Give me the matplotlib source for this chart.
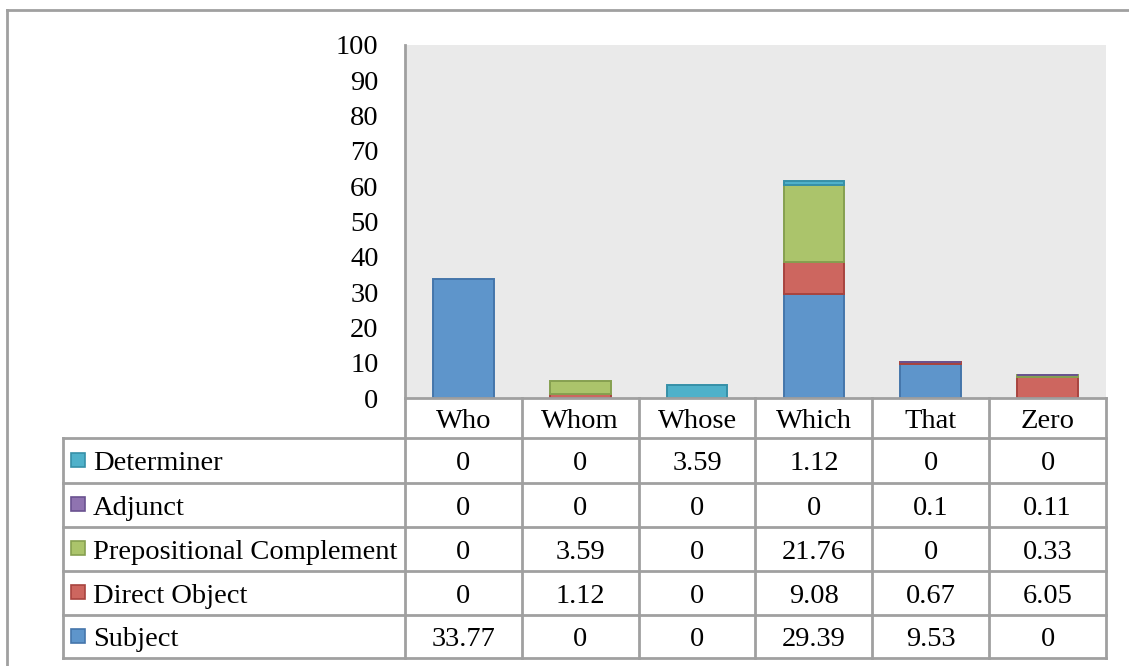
import numpy as np
import matplotlib
matplotlib.use("Agg")
import matplotlib.pyplot as plt
from matplotlib.lines import Line2D
from matplotlib.patches import Rectangle

categories = ["Who", "Whom", "Whose", "Which", "That", "Zero"]
subject = [33.77, 0, 0, 29.39, 9.53, 0]
direct_object = [0, 1.12, 0, 9.08, 0.67, 6.05]
prep_complement = [0, 3.59, 0, 21.76, 0, 0.33]
adjunct = [0, 0, 0, 0, 0.1, 0.11]
determiner = [0, 0, 3.59, 1.12, 0, 0]

series = [
    ("Subject", subject, "#5e95cb", "#4576ab"),
    ("Direct Object", direct_object, "#cd665f", "#a8443f"),
    ("Prepositional Complement", prep_complement, "#abc46b", "#86a050"),
    ("Adjunct", adjunct, "#8f73b0", "#6a5290"),
    ("Determiner", determiner, "#4fb1ca", "#3690a8"),
]
# table rows are listed top-down, opposite of the stacking order
table_rows = series[::-1]

W, H = 1129, 666
plt.rcParams['font.family'] = ['Liberation Serif', 'DejaVu Serif']
fs = 20.5

fig = plt.figure(figsize=(W / 100, H / 100), dpi=100)


def fx(x):
    return x / W


def fy(y):
    return 1 - y / H


# plot area in pixel coordinates
left, right, top, base = 405, 1106, 45, 398
ax = fig.add_axes([fx(left), fy(base), (right - left) / W, (base - top) / H])
ax.set_facecolor("#eaeaea")

x = np.arange(len(categories))
bottom = np.zeros(len(categories))
for name, vals, fc, ec in series:
    vals = np.array(vals)
    lw = np.where(vals > 0, 1.4, 0)
    ax.bar(x, vals, 0.52, bottom=bottom, color=fc, edgecolor=ec, linewidth=lw, zorder=2)
    bottom += vals

ax.set_xlim(-0.5, len(categories) - 0.5)
ax.set_ylim(0, 100)
ax.set_yticks(range(0, 101, 10))
ax.set_xticks([])
ax.tick_params(axis="y", length=0, pad=19, labelsize=fs)
for s in ["top", "right", "bottom"]:
    ax.spines[s].set_visible(False)
ax.spines["left"].set_color("#a0a0a0")
ax.spines["left"].set_linewidth(2)

# data table under the plot
col_w = (right - left) / len(categories)
col_edges = [left + i * col_w for i in range(len(categories) + 1)]
row_edges = [398, 438, 483, 527, 571, 615, 658]
label_left = 63
grid = "#a0a0a0"
base_off = 10


def hline(x0, x1, y):
    fig.add_artist(Line2D([fx(x0), fx(x1)], [fy(y), fy(y)], color=grid, lw=2))


def vline(xp, y0, y1):
    fig.add_artist(Line2D([fx(xp), fx(xp)], [fy(y0), fy(y1)], color=grid, lw=2))


hline(left, right, row_edges[0])
for y in row_edges[1:]:
    hline(label_left, right, y)
for xe in col_edges:
    vline(xe, row_edges[0], row_edges[-1])
vline(label_left, row_edges[1], row_edges[-1])

header_y = (row_edges[0] + row_edges[1]) / 2
for i, cat in enumerate(categories):
    cx = (col_edges[i] + col_edges[i + 1]) / 2
    fig.text(fx(cx), fy(header_y + base_off), cat, ha="center", va="baseline", fontsize=fs)

for r, (name, vals, fc, ec) in enumerate(table_rows):
    cy = (row_edges[r + 1] + row_edges[r + 2]) / 2
    fig.add_artist(Rectangle((fx(71), fy(cy + 6)), 14 / W, 14 / H,
                             facecolor=fc, edgecolor=ec, lw=1.2))
    fig.text(fx(93), fy(cy + base_off), name, ha="left", va="baseline", fontsize=fs)
    for i, v in enumerate(vals):
        cx = (col_edges[i] + col_edges[i + 1]) / 2
        fig.text(fx(cx), fy(cy + base_off), f"{v:g}", ha="center", va="baseline", fontsize=fs)

# outer chart frame
fig.add_artist(Line2D([fx(7), fx(W)], [fy(10), fy(10)], color="#a0a0a0", lw=2))
fig.add_artist(Line2D([fx(7), fx(7)], [fy(10), fy(H)], color="#a0a0a0", lw=2))

fig.savefig("out.png", dpi=100)
